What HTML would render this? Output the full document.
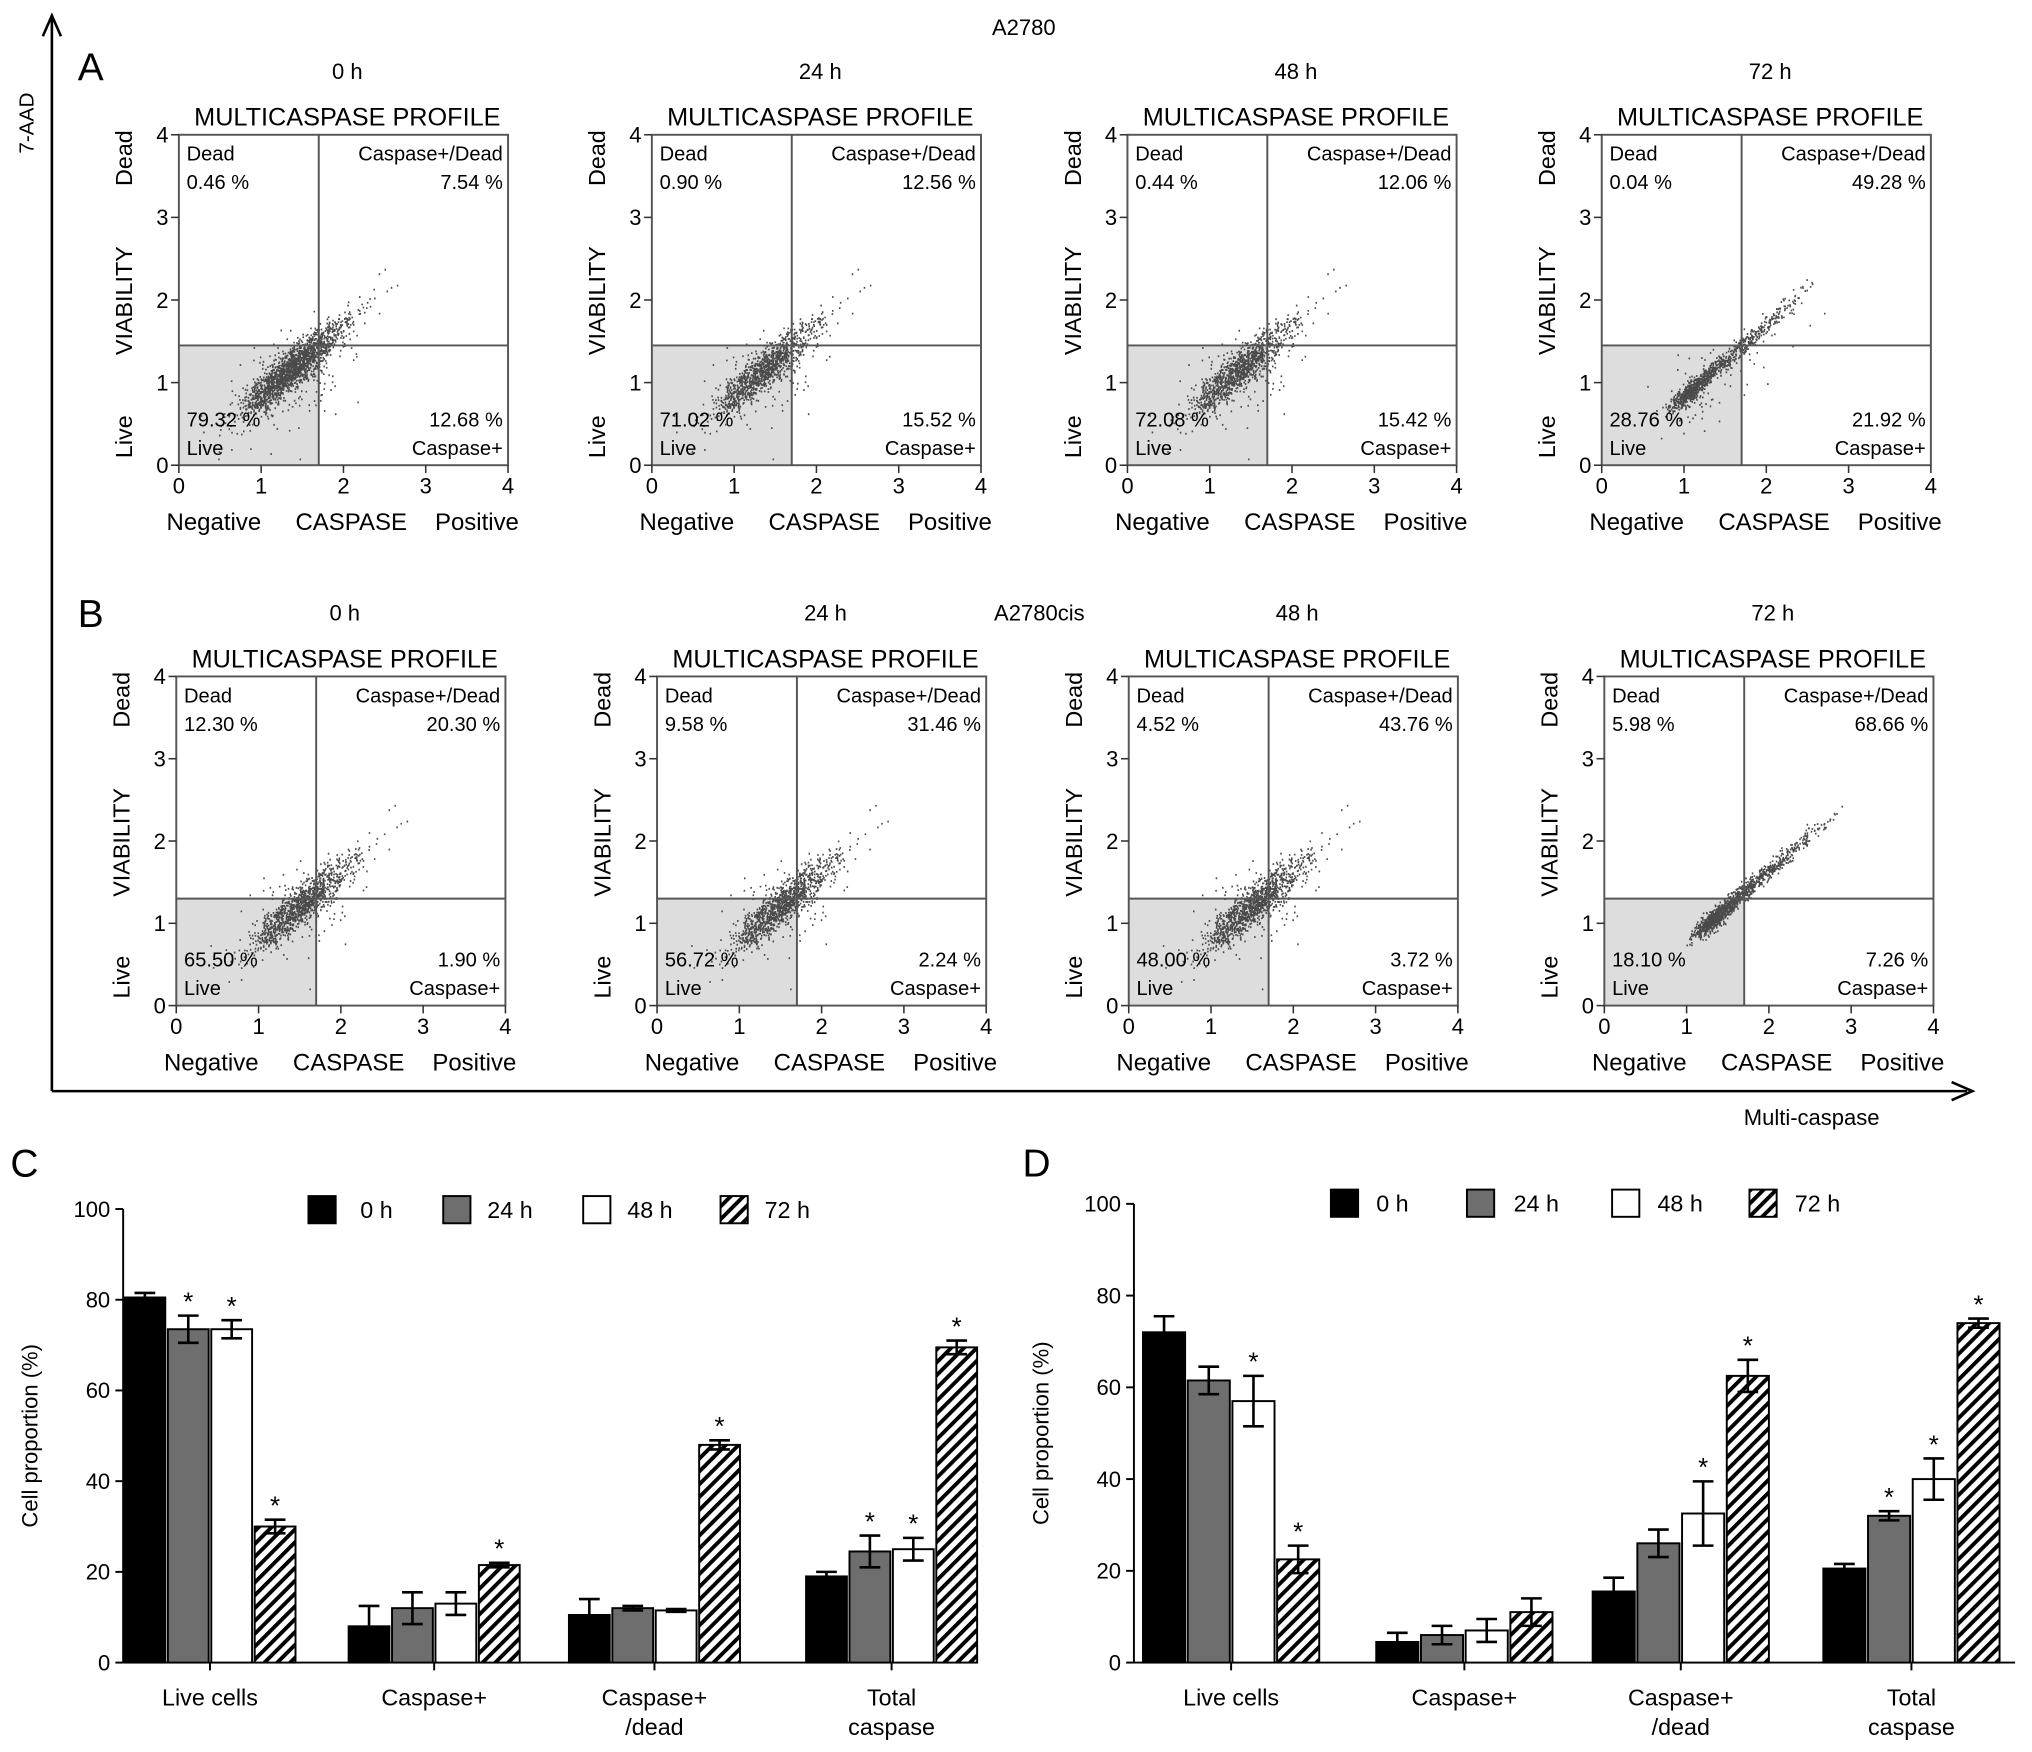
<!DOCTYPE html>
<html><head><meta charset="utf-8"><style>
html,body{margin:0;padding:0;background:#fff}
svg{display:block;font-family:"Liberation Sans",Arial,sans-serif}
</style></head><body>
<svg id="fig" xmlns="http://www.w3.org/2000/svg" width="2032" height="1752" viewBox="0 0 1568 1352">
<defs>
<pattern id="hatch" patternUnits="userSpaceOnUse" width="7" height="7" patternTransform="rotate(45)">
<rect width="7" height="7" fill="#fff"/><rect width="3" height="7" fill="#000"/>
</pattern>
</defs>
<g id="scatter"></g>
<g stroke="#000" stroke-width="2" fill="none">
<line x1="40" y1="842" x2="40" y2="14"/><line x1="40" y1="842" x2="1518" y2="842"/>
<polyline points="33,28 40,12 47,28"/><polyline points="1506,835 1522,842 1506,849"/>
</g>
<text transform="translate(26,95) rotate(-90)" font-size="16" text-anchor="middle">7-AAD</text>
<text x="1398" y="868" font-size="17" text-anchor="middle">Multi-caspase</text>
<text x="790" y="27" font-size="17" text-anchor="middle">A2780</text>
<text x="802" y="479" font-size="17" text-anchor="middle">A2780cis</text>
<text x="60" y="62" font-size="30">A</text>
<text x="60" y="484" font-size="30">B</text>
<text x="8" y="908" font-size="30">C</text>
<text x="789" y="908" font-size="30">D</text>
<g id="bars"></g>
</svg>
<script>
const NS="http://www.w3.org/2000/svg";
function mk(tag,attrs,parent,txt){const e=document.createElementNS(NS,tag);for(const k in attrs)e.setAttribute(k,attrs[k]);if(txt!==undefined)e.textContent=txt;parent.appendChild(e);return e;}

// ---- scatter data ----
const timeLabels=["0 h","24 h","48 h","72 h"];
const deadA=["0.46 %","0.90 %","0.44 %","0.04 %"];
const cdA=["7.54 %","12.56 %","12.06 %","49.28 %"];
const liveA=["79.32 %","71.02 %","72.08 %","28.76 %"];
const cpA=["12.68 %","15.52 %","15.42 %","21.92 %"];
const deadB=["12.30 %","9.58 %","4.52 %","5.98 %"];
const cdB=["20.30 %","31.46 %","43.76 %","68.66 %"];
const liveB=["65.50 %","56.72 %","48.00 %","18.10 %"];
const cpB=["1.90 %","2.24 %","3.72 %","7.26 %"];
const gateYA=1.45, gateYB=1.3, gateX=1.7;
const panelXA=[138,503,870,1236], panelXB=[136,507,871,1238];

let seed=12345;function rnd(){seed=(seed*1103515245+12345)%2147483648;return seed/2147483648;}
function gauss(){return Math.sqrt(-2*Math.log(rnd()+1e-9))*Math.cos(2*Math.PI*rnd());}

const sc=document.getElementById('scatter');
function panel(px,top,bot,gy,title,dead,cd,live,cp,row,i){
  const g=mk('g',{},sc);
  
  
  const W=254,H=bot-top;
  const X=v=>px+v/4*W, Y=v=>bot-v/4*H;
  const t1=mk('text',{x:px+130,y:top-43,'font-size':17,'text-anchor':'middle'},g,title);
  
  const t2=mk('text',{x:px+130,y:top-7,'font-size':19.5,'text-anchor':'middle'},g,'MULTICASPASE PROFILE');
  
  mk('rect',{x:X(0),y:Y(gy),width:X(gateX)-X(0),height:Y(0)-Y(gy),fill:'#ddd'},g);
  const late=(i===3), isB=row==='b';
  const n=late?4000:5000;
  let d='';
  for(let k=0;k<n;k++){
    let t=late?rnd()*rnd()*1.6+(isB?1.2:0.95)+gauss()*0.08 : gauss()*0.28+(isB?1.5:1.35);
    if(rnd()<0.03)t+=rnd()*(late?0.8:0.9);
    const sp=late?0.045:0.09;
    let x=t+gauss()*sp, y=t*0.88+(isB?-0.12:-0.05)+gauss()*sp;
    if(!late&&rnd()<0.12){x=t+gauss()*0.25;y=t*0.85+gauss()*0.25-0.1;}
    if(late&&!isB&&rnd()<0.1){x=t+gauss()*0.2;y=t*0.8+gauss()*0.2-0.1;}
    if(x<0.05||y<0.05||x>3.9||y>3.9)continue;
    d+='M'+X(x).toFixed(1)+' '+Y(y).toFixed(1)+'h1.2';
  }
  mk('path',{d:d,stroke:'#4a4a4a','stroke-width':1.4,fill:'none'},g);
  mk('rect',{x:X(0),y:top,width:W,height:H,fill:'none',stroke:'#555','stroke-width':1.5},g);
  mk('line',{x1:X(gateX),y1:top,x2:X(gateX),y2:bot,stroke:'#555','stroke-width':1.5},g);
  mk('line',{x1:X(0),y1:Y(gy),x2:X(4),y2:Y(gy),stroke:'#555','stroke-width':1.5},g);
  for(let v=0;v<=4;v++){
    mk('line',{x1:X(v),y1:bot,x2:X(v),y2:bot+6,stroke:'#333','stroke-width':1.2},g);
    mk('line',{x1:px,y1:Y(v),x2:px-6,y2:Y(v),stroke:'#333','stroke-width':1.2},g);
    mk('text',{x:X(v),y:bot+22,'font-size':17,'text-anchor':'middle'},g,String(v));
    mk('text',{x:px-8,y:Y(v)+6,'font-size':17,'text-anchor':'end'},g,String(v));
  }
  const fs=15.5;
  mk('text',{x:px+6,y:top+20,'font-size':fs},g,'Dead');
  mk('text',{x:px+6,y:top+42,'font-size':fs},g,dead);
  mk('text',{x:px+W-4,y:top+20,'font-size':fs,'text-anchor':'end'},g,'Caspase+/Dead');
  mk('text',{x:px+W-4,y:top+42,'font-size':fs,'text-anchor':'end'},g,cd);
  mk('text',{x:px+6,y:bot-30,'font-size':fs},g,live);
  mk('text',{x:px+6,y:bot-8,'font-size':fs},g,'Live');
  mk('text',{x:px+W-4,y:bot-30,'font-size':fs,'text-anchor':'end'},g,cp);
  mk('text',{x:px+W-4,y:bot-8,'font-size':fs,'text-anchor':'end'},g,'Caspase+');
  mk('text',{x:px-36,y:top+18,'font-size':18,'text-anchor':'middle',transform:`rotate(-90 ${px-36} ${top+18})`},g,'Dead');
  mk('text',{x:px-36,y:top+128,'font-size':18,'text-anchor':'middle',transform:`rotate(-90 ${px-36} ${top+128})`},g,'VIABILITY');
  mk('text',{x:px-36,y:bot-22,'font-size':18,'text-anchor':'middle',transform:`rotate(-90 ${px-36} ${bot-22})`},g,'Live');
  mk('text',{x:px+27,y:bot+50,'font-size':18.5,'text-anchor':'middle'},g,'Negative');
  mk('text',{x:px+133,y:bot+50,'font-size':18.5,'text-anchor':'middle'},g,'CASPASE');
  mk('text',{x:px+230,y:bot+50,'font-size':18.5,'text-anchor':'middle'},g,'Positive');
}
for(let i=0;i<4;i++){
  panel(panelXA[i],104,359,gateYA,timeLabels[i],deadA[i],cdA[i],liveA[i],cpA[i],'a',i);
  panel(panelXB[i],522,776,gateYB,timeLabels[i],deadB[i],cdB[i],liveB[i],cpB[i],'b',i);
}

// ---- bar chart data ----
const categories=["Live cells","Caspase+","Caspase+\n/dead","Total\ncaspase"];
const seriesNames=["0 h","24 h","48 h","72 h"];
const yTicks=[0,20,40,60,80,100];
const cVals=[[80.5,73.5,73.5,30],[8,12,13,21.5],[10.5,12,11.5,48],[19,24.5,25,69.5]];
const cErr=[[1,3,2,1.5],[4.5,3.5,2.5,0.5],[3.5,0.5,0.3,1],[1,3.5,2.5,1.5]];
const cStar=[[0,1,1,1],[0,0,0,1],[0,0,0,1],[0,1,1,1]];
const dVals=[[72,61.5,57,22.5],[4.5,6,7,11],[15.5,26,32.5,62.5],[20.5,32,40,74]];
const dErr=[[3.5,3,5.5,3],[2,2,2.5,3],[3,3,7,3.5],[1,1,4.5,1]];
const dStar=[[0,0,1,1],[0,0,0,0],[0,0,1,1],[0,1,1,1]];
const fills=['#000','#6e6e6e','#fff','url(#hatch)'];

const bg=document.getElementById('bars');
function barChart(name,ax,axR,y0,y100,centers,bw,vals,errs,stars,legX,legLabX,legY){
  const g=mk('g',{},bg);
  
  
  const Y=v=>y0-(v/100)*(y0-y100);
  mk('line',{x1:ax,y1:Y(0),x2:ax,y2:Y(100),stroke:'#000','stroke-width':1.5},g);
  mk('line',{x1:ax,y1:Y(0),x2:axR,y2:Y(0),stroke:'#000','stroke-width':1.5},g);
  yTicks.forEach(t=>{
    mk('line',{x1:ax-6,y1:Y(t),x2:ax,y2:Y(t),stroke:'#000','stroke-width':1.5},g);
    mk('text',{x:ax-10,y:Y(t)+6,'font-size':17,'text-anchor':'end'},g,String(t));
  });
  const yl=mk('text',{x:ax-66,y:(Y(0)+Y(100))/2,'font-size':17,'text-anchor':'middle',transform:`rotate(-90 ${ax-66} ${(Y(0)+Y(100))/2})`},g,'Cell proportion (%)');
  
  categories.forEach((c,ci)=>{
    const cx=centers[ci];
    mk('line',{x1:cx,y1:Y(0),x2:cx,y2:Y(0)+6,stroke:'#000','stroke-width':1.5},g);
    c.split('\n').forEach((ln,li)=>mk('text',{x:cx,y:Y(0)+33+li*23,'font-size':18,'text-anchor':'middle'},g,ln));
    vals[ci].forEach((v,si)=>{
      const x=cx-2*bw+si*bw;
      const r=mk('rect',{x:x+1,y:Y(v),width:bw-2,height:Y(0)-Y(v),fill:fills[si],stroke:'#000','stroke-width':1.5},g);
      
      
      const e=errs[ci][si], mx=x+bw/2;
      mk('path',{d:`M${mx} ${Y(v+e)}V${Y(Math.max(v-e,0))}M${mx-8} ${Y(v+e)}h16M${mx-8} ${Y(Math.max(v-e,0))}h16`,stroke:'#000','stroke-width':2,fill:'none'},g);
      if(stars[ci][si]) mk('text',{x:mx,y:Y(v+e)-4,'font-size':20,'text-anchor':'middle'},g,'*');
    });
  });
  seriesNames.forEach((s,si)=>{
    const lr=mk('rect',{x:legX[si],y:legY-10,width:21,height:21,fill:fills[si],stroke:'#000','stroke-width':1.5},g);
    
    mk('text',{x:legLabX[si],y:legY+7,'font-size':18},g,s);
  });
}
barChart('bar-chart-c',95,740,1283,933,[162,335,505,688],33.5,cVals,cErr,cStar,[238,342,450,556],[278,376,484,590],933);
barChart('bar-chart-d',875,1555,1283,929,[950,1130,1297,1475],34.5,dVals,dErr,dStar,[1027,1132,1244,1350],[1062,1168,1279,1385],928);
</script>
</body></html>
